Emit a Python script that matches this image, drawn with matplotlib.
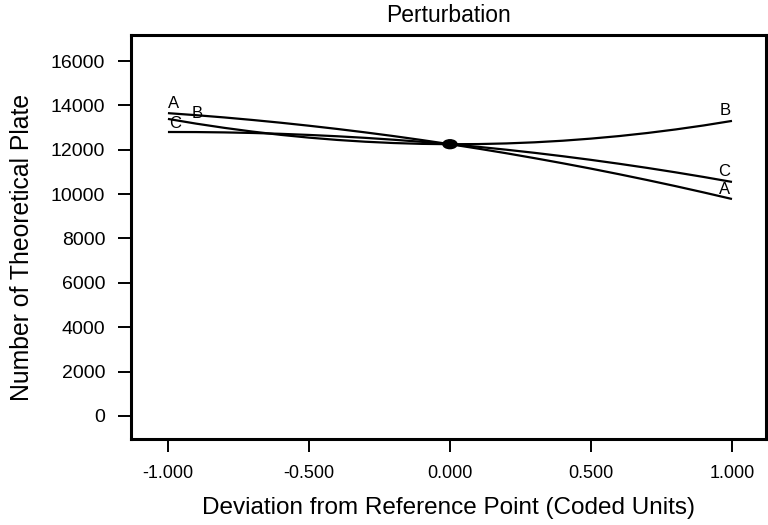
import matplotlib
matplotlib.use("Agg")
import matplotlib.pyplot as plt
from matplotlib.patches import Ellipse

plt.rcParams['font.family'] = ['Liberation Sans', 'DejaVu Sans']

# coded deviation values
x = [-1.0, -0.9, -0.8, -0.7, -0.6, -0.5, -0.4, -0.3, -0.2, -0.1, 0.0,
     0.1, 0.2, 0.3, 0.4, 0.5, 0.6, 0.7, 0.8, 0.9, 1.0]

# number of theoretical plates
A = [13650, 13558, 13456, 13342, 13218, 13083, 12938, 12782, 12616, 12438, 12250,
     12051, 11842, 11621, 11390, 11149, 10896, 10633, 10360, 10075, 9780]
B = [13390, 13177, 12987, 12818, 12671, 12546, 12443, 12362, 12303, 12265, 12250,
     12256, 12285, 12335, 12407, 12502, 12617, 12755, 12915, 13096, 13300]
C = [12800, 12797, 12782, 12756, 12718, 12668, 12608, 12536, 12452, 12357, 12250,
     12132, 12002, 11861, 11708, 11544, 11368, 11181, 10982, 10772, 10550]

xticks = [-1.0, -0.5, 0.0, 0.5, 1.0]
xticklabels = ["-1.000", "-0.500", "0.000", "0.500", "1.000"]
yticks = [0, 2000, 4000, 6000, 8000, 10000, 12000, 14000, 16000]

# curve labels: (text, x, y)
labels = [("A", -0.98, 14100), ("B", -0.897, 13650), ("C", -0.975, 13200),
          ("B", 0.975, 13790), ("C", 0.972, 11000), ("A", 0.972, 10190)]

fig = plt.figure(figsize=(7.68, 5.25), dpi=100)
ax = fig.add_axes([131/768, 86/525, (766-131)/768, (439-35)/525])

for series in (A, B, C):
    ax.plot(x, series, color='black', lw=1.6, solid_capstyle='butt')

ax.add_patch(Ellipse((0.0, 12250), 0.05, 400, color='black', zorder=5))

for t, lx, ly in labels:
    ax.text(lx, ly, t, fontsize=12, ha='center', va='center')

ax.set_xlim(-1.131, 1.1206)
ax.set_ylim(-1037, 17172)
ax.set_xticks(xticks)
ax.set_xticklabels(xticklabels)
ax.set_yticks(yticks)
ax.tick_params(direction='out', length=9.5, width=1.4, pad=9)
ax.tick_params(axis='x', labelsize=13)
ax.tick_params(axis='y', labelsize=14)

for s in ax.spines.values():
    s.set_linewidth(2.2)

ax.set_title("Perturbation", fontsize=16.5, pad=9)
ax.set_xlabel("Deviation from Reference Point (Coded Units)", fontsize=17.5, labelpad=11)
ax.set_ylabel("Number of Theoretical Plate", fontsize=17.8, labelpad=12, y=0.473)

fig.savefig("out.png", dpi=100)
